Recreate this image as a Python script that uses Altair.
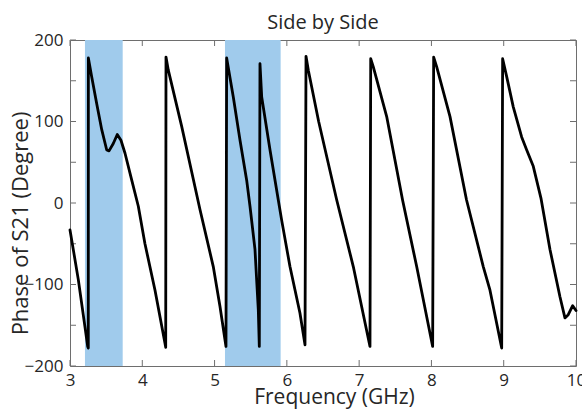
import altair as alt
import pandas as pd

# Phase of S21 vs frequency (wrapped to +/-180 degrees)
freq = [3.000, 3.115, 3.207, 3.245, 3.253, 3.254,
        3.300, 3.369, 3.439, 3.508, 3.540, 3.599, 3.654, 3.705, 3.761, 3.854, 3.945,
        4.037, 4.176, 4.314, 4.324, 4.328,
        4.360, 4.545, 4.798, 4.982, 5.075, 5.158, 5.167,
        5.259, 5.352, 5.444, 5.490, 5.559, 5.605, 5.619, 5.628,
        5.652, 5.767, 5.881, 5.928, 6.043, 6.181, 6.251, 6.265,
        6.297, 6.440, 6.689, 6.919, 7.150, 7.160,
        7.196, 7.381, 7.600, 7.796, 8.017, 8.031,
        8.073, 8.257, 8.485, 8.717, 8.810, 8.972, 8.985,
        9.041, 9.132, 9.248, 9.318, 9.409, 9.515, 9.640, 9.778, 9.847, 9.893, 9.954, 10.000]
phase = [-33, -94, -152, -176, -178, 178,
         155, 122, 90, 65, 64, 73, 84, 77, 61, 28, -4,
         -50, -107, -172, -177, 179,
         163, 94, -8, -78, -127, -176, 178,
         130, 77, 28, -4, -57, -131, -176, 171,
         130, 65, 4, -21, -78, -135, -174, 180,
         163, 100, 4, -78, -176, 177,
         167, 106, 4, -78, -176, 179,
         167, 106, 4, -78, -107, -178, 177,
         155, 118, 81, 65, 45, 6, -57, -115, -141, -137, -126, -132]

# Highlighted frequency bands (GHz)
band_start = [3.207, 5.144]
band_end = [3.729, 5.914]

x_ticks = [3, 4, 5, 6, 7, 8, 9, 10]
y_ticks = [-200, -150, -100, -50, 0, 50, 100, 150, 200]

curve = pd.DataFrame({"f": freq, "p": phase, "i": range(len(freq))})
bands = pd.DataFrame({"a": band_start, "b": band_end})
xt = pd.DataFrame({"v": x_ticks})
yt = pd.DataFrame({"v": y_ticks})

xs = alt.Scale(domain=[3, 10], nice=False, zero=False)
ys = alt.Scale(domain=[-200, 200], nice=False, zero=False)

ink = "#262626"
frame = "#6e6e6e"

x_axis = alt.Axis(values=x_ticks, format="d", title="Frequency (GHz)", grid=False,
                  domain=False, ticks=False, labelPadding=6, labelFontSize=17,
                  labelFlush=False, labelOverlap=False,
                  titleFontSize=21, labelColor=ink, titleColor=ink, titleFontWeight="normal",
                  titleX=264, titleY=37, titleBaseline="alphabetic")
y_axis = alt.Axis(values=y_ticks, title="Phase of S21 (Degree)", grid=False, domain=False,
                  ticks=False, labelPadding=7, labelFontSize=17, labelFlush=False,
                  titleFontSize=22, labelColor=ink, titleColor=ink, titleFontWeight="normal",
                  titleX=-43, titleY=183, titleBaseline="alphabetic",
                  labelExpr="datum.value % 100 == 0 ? datum.label : ''")

band_layer = alt.Chart(bands).mark_rect(color="#a0cbec").encode(
    x=alt.X("a:Q", scale=xs, axis=x_axis),
    x2="b:Q",
    y=alt.value(0),
    y2=alt.value(326),
)

tick_len = 6
bottom_ticks = alt.Chart(xt).mark_rule(color=frame, strokeWidth=1).encode(
    x=alt.X("v:Q", scale=xs), y=alt.value(326), y2=alt.value(326 - tick_len))
top_ticks = alt.Chart(xt).mark_rule(color=frame, strokeWidth=1).encode(
    x=alt.X("v:Q", scale=xs), y=alt.value(0), y2=alt.value(tick_len))
left_ticks = alt.Chart(yt).mark_rule(color=frame, strokeWidth=1).encode(
    y=alt.Y("v:Q", scale=ys, axis=y_axis), x=alt.value(0), x2=alt.value(tick_len))
right_ticks = alt.Chart(yt).mark_rule(color=frame, strokeWidth=1).encode(
    y=alt.Y("v:Q", scale=ys), x=alt.value(506), x2=alt.value(506 - tick_len))

line = alt.Chart(curve).mark_line(color="black", strokeWidth=2.8, strokeJoin="round",
                                  strokeCap="round").encode(
    x=alt.X("f:Q", scale=xs),
    y=alt.Y("p:Q", scale=ys),
    order="i:Q",
)

chart = alt.layer(band_layer, bottom_ticks, top_ticks, left_ticks, right_ticks, line).properties(
    width=506,
    height=326,
    autosize=alt.AutoSizeParams(type="none"),
    padding={"left": 70, "top": 40, "right": 6, "bottom": 43},
    title=alt.TitleParams("Side by Side", fontSize=20, fontWeight="normal", color=ink,
                          offset=10, dy=12),
).configure(
    font="Open Sans",
).configure_view(
    stroke=frame, strokeWidth=1,
)

chart.save("out.html", embed_options={"renderer": "svg", "actions": False})
